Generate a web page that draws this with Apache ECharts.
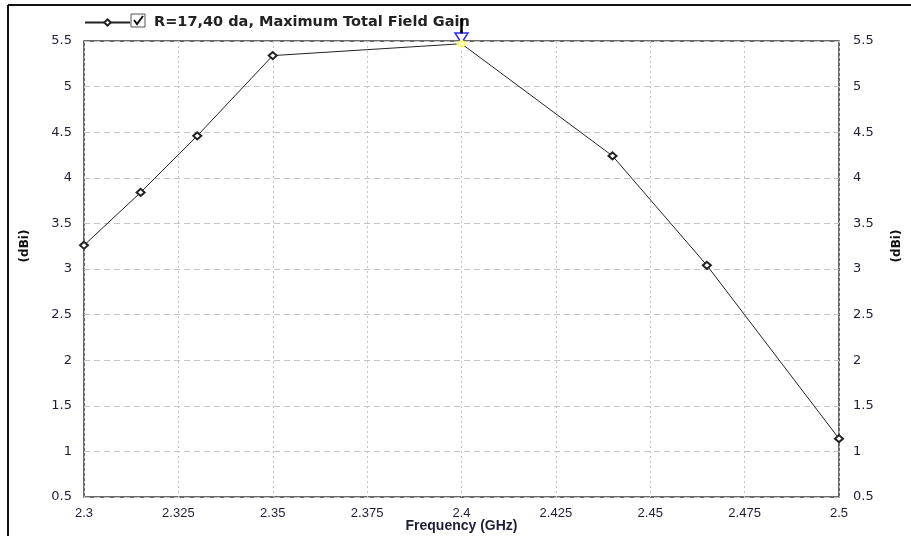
<!DOCTYPE html>
<html><head><meta charset="utf-8">
<script src="https://cdn.jsdelivr.net/npm/echarts@6/dist/echarts.min.js"></script>
<style>html,body{margin:0;padding:0;background:#fff}#c{width:911px;height:536px}</style>
</head><body><div id="c"></div>
<script>
var freqs = [2.3, 2.315, 2.33, 2.35, 2.4, 2.44, 2.465, 2.5];
var gains = [3.26, 3.84, 4.46, 5.34, 5.47, 4.24, 3.04, 1.14];
var seriesName = 'R=17,40 da, Maximum Total Field Gain';
var xTicks = {min: 2.3, max: 2.5, step: 0.025};
var yTicks = {min: 0.5, max: 5.5, step: 0.5};
var peakFreq = 2.4;

var txt = '#1e1e38';
var chart = echarts.init(document.getElementById('c'), null, {renderer: 'canvas'});
var pts = freqs.map(function (f, i) {
  var p = {value: [f, gains[i]]};
  if (f === peakFreq) p.itemStyle = {color: '#ffff66', borderColor: '#222'};
  return p;
});
function fmt(v) { return String(parseFloat(v.toFixed(3))); }
chart.setOption({
  animation: false,
  backgroundColor: '#fff',
  grid: {left: 84, right: 72, top: 41, bottom: 39, show: true, borderColor: '#3a3a3a', borderWidth: 1.5,
         containLabel: false, outerBoundsMode: 'none'},
  legend: {
    left: 84, top: 15, padding: 0, itemWidth: 45, itemHeight: 8, itemGap: 5, z: 1,
    data: [seriesName],
    textStyle: {fontFamily: 'DejaVu Sans', fontWeight: 'bold', fontSize: 14.5, color: '#222', padding: [0, 0, 0, 19]}
  },
  xAxis: {
    type: 'value', min: xTicks.min, max: xTicks.max, interval: xTicks.step,
    name: 'Frequency (GHz)', nameLocation: 'middle', nameGap: 22, nameMoveOverlap: false,
    nameTextStyle: {fontFamily: 'Liberation Sans Narrow, Liberation Sans', fontWeight: 'bold', fontSize: 14, color: txt},
    axisLine: {show: false}, axisTick: {show: false},
    axisLabel: {margin: 10, fontFamily: 'Liberation Sans Narrow, Liberation Sans', fontSize: 13, color: txt, formatter: fmt},
    splitLine: {show: true, lineStyle: {color: '#c4c4c4', type: [2, 3], width: 1}}
  },
  yAxis: [{
    type: 'value', min: yTicks.min, max: yTicks.max, interval: yTicks.step, position: 'left',
    axisLine: {show: false}, axisTick: {show: false},
    axisLabel: {margin: 12, fontFamily: 'DejaVu Sans', fontSize: 13, color: txt, formatter: fmt},
    splitLine: {show: true, lineStyle: {color: '#c4c4c4', type: [6, 4], width: 1}}
  }, {
    type: 'value', min: yTicks.min, max: yTicks.max, interval: yTicks.step, position: 'right',
    axisLine: {show: false}, axisTick: {show: false},
    axisLabel: {margin: 14, fontFamily: 'DejaVu Sans', fontSize: 13, color: txt, formatter: fmt},
    splitLine: {show: false}
  }],
  series: [{
    name: seriesName, type: 'line', data: pts, z: 5, zlevel: 1,
    symbol: 'emptyDiamond', symbolSize: [8, 7],
    lineStyle: {color: '#222', width: 1},
    itemStyle: {color: '#222', borderColor: '#222', borderWidth: 1},
    markPoint: {
      silent: true, label: {show: false}, z: 10,
      data: [
        {coord: [peakFreq, yTicks.max], symbol: 'triangle', symbolRotate: 180, symbolSize: [13, 10], symbolOffset: [0, -3],
         itemStyle: {color: 'rgba(255,255,255,0)', borderColor: '#2a2aff', borderWidth: 1.5}},
        {coord: [peakFreq, yTicks.max], symbol: 'path://M0,0L2,0L2,12L0,12Z', symbolKeepAspect: false, symbolSize: [2, 12], symbolOffset: [0, -15],
         itemStyle: {color: '#000', borderColor: '#000', borderWidth: 0.5}}
      ]
    }
  }],
  graphic: [
    {type: 'line', shape: {x1: 8, y1: 5, x2: 911, y2: 5}, style: {stroke: '#111', lineWidth: 2}},
    {type: 'line', shape: {x1: 8, y1: 5, x2: 8, y2: 536}, style: {stroke: '#111', lineWidth: 2}},
    {type: 'rect', shape: {x: 131, y: 14, width: 14, height: 13}, style: {fill: '#fff', stroke: '#555', lineWidth: 1}},
    {type: 'polyline', shape: {points: [[134, 20], [137, 24], [143, 16]]}, style: {fill: null, stroke: '#111', lineWidth: 2}},
    {type: 'text', x: 25, y: 246, rotation: Math.PI / 2, style: {text: '(dBi)', fontFamily: 'DejaVu Sans', fontWeight: 'bold', fontSize: 12, fill: '#111', align: 'center', verticalAlign: 'middle'}},
    {type: 'text', x: 897, y: 246, rotation: Math.PI / 2, style: {text: '(dBi)', fontFamily: 'DejaVu Sans', fontWeight: 'bold', fontSize: 12, fill: '#111', align: 'center', verticalAlign: 'middle'}}
  ]
});
</script></body></html>
